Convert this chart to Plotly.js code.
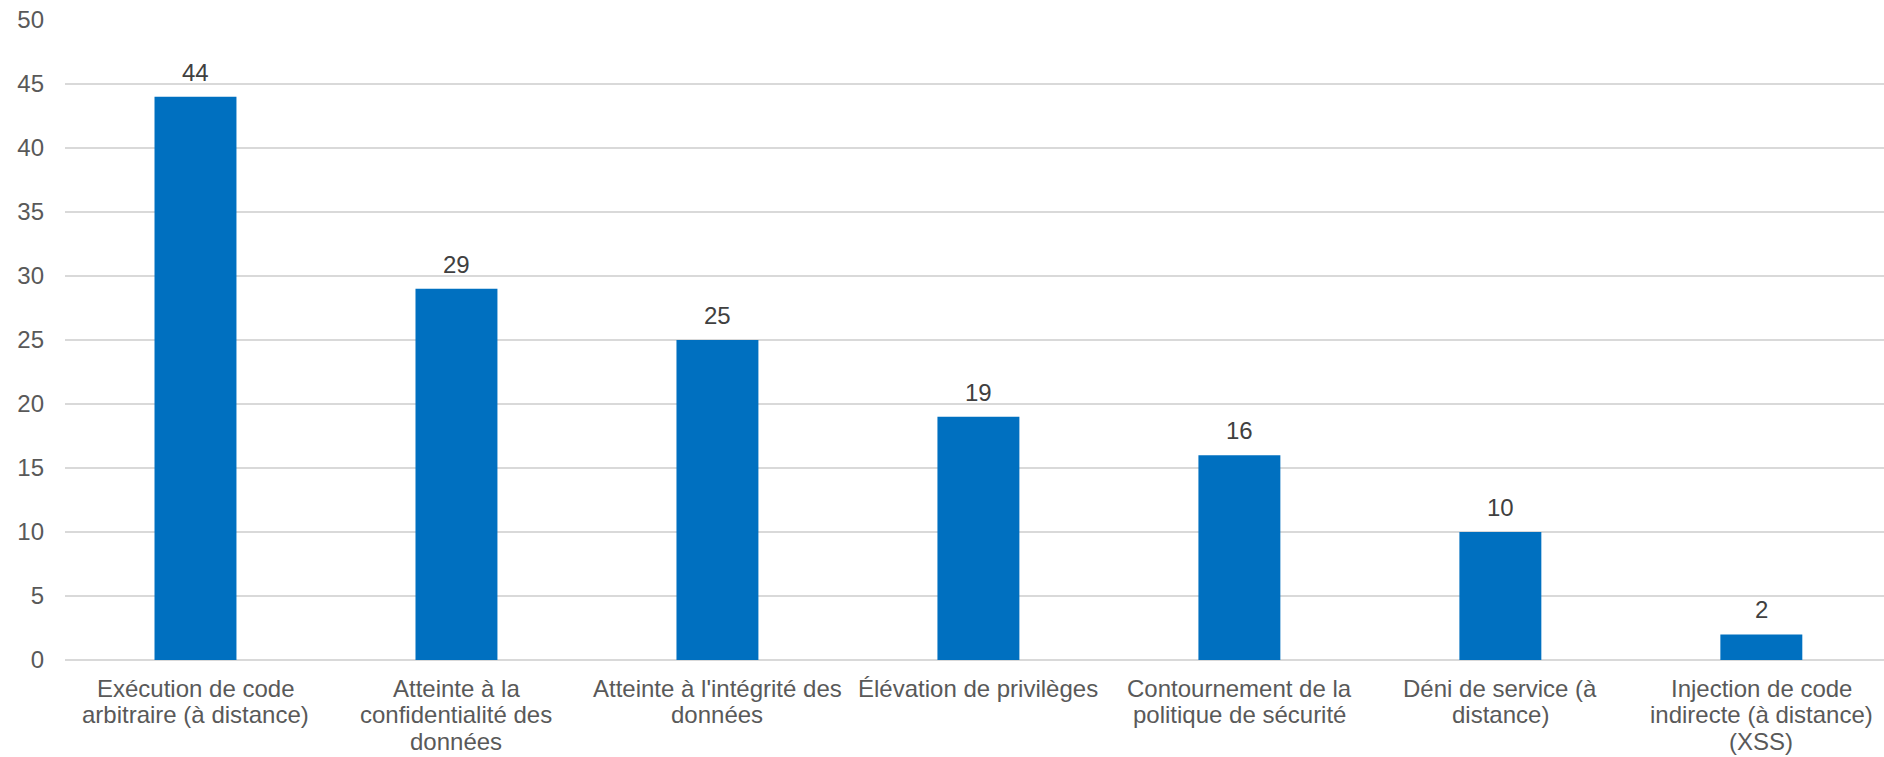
<!DOCTYPE html>
<html>
<head>
<meta charset="utf-8">
<script src="https://cdn.plot.ly/plotly-3.0.1.min.js"></script>
<style>
  html, body { margin: 0; padding: 0; background: #ffffff; }
  #chart { width: 1884px; height: 757px; }
</style>
</head>
<body>
<div id="chart"></div>
<script>
// Vulnerability categories (x axis), one entry per bar; "\n" marks a line break
const categories = [
  "Exécution de code\narbitraire (à distance)",
  "Atteinte à la\nconfidentialité des\ndonnées",
  "Atteinte à l'intégrité des\ndonnées",
  "Élévation de privilèges",
  "Contournement de la\npolitique de sécurité",
  "Déni de service (à\ndistance)",
  "Injection de code\nindirecte (à distance)\n(XSS)"
];
// Number of occurrences per category
const counts = [44, 29, 25, 19, 16, 10, 2];
const yTicks = [0, 5, 10, 15, 20, 25, 30, 35, 40, 45, 50];

const positions = categories.map((_, i) => i);
const fontFamily = "Arial, 'Liberation Sans', sans-serif";
const fontSize = 24;
const lineStep = 26.8;   // tighter line spacing than Plotly's built-in 1.3em

const trace = {
  type: "bar",
  x: positions,
  y: counts,
  width: 0.314,
  marker: { color: "#0070C0", line: { width: 0 } },
  hoverinfo: "skip",
  showlegend: false
};

// Value labels above each bar
const valueLabels = counts.map((v, i) => ({
  x: i,
  y: v,
  xref: "x",
  yref: "y",
  text: String(v),
  showarrow: false,
  yanchor: "bottom",
  yshift: 9,
  font: { family: fontFamily, size: fontSize, color: "#404040" }
}));

// Category labels under the axis, one annotation per text line
const categoryLabels = [];
categories.forEach((label, i) => {
  label.split("\n").forEach((line, k) => {
    categoryLabels.push({
      x: i,
      y: 0,
      xref: "x",
      yref: "y",
      text: line,
      showarrow: false,
      xanchor: "center",
      yanchor: "middle",
      yshift: -28 - k * lineStep,
      font: { family: fontFamily, size: fontSize, color: "#595959" }
    });
  });
});

const layout = {
  width: 1884,
  height: 757,
  margin: { l: 65, r: 0, t: 20, b: 97, pad: 0 },
  paper_bgcolor: "#ffffff",
  plot_bgcolor: "#ffffff",
  font: { family: fontFamily, size: fontSize, color: "#595959" },
  bargap: 0.686,
  xaxis: {
    range: [-0.5, 6.47],
    tickvals: positions,
    showticklabels: false,
    showgrid: false,
    zeroline: false,
    showline: false,
    ticks: "",
    fixedrange: true
  },
  yaxis: {
    range: [0, 50],
    tickvals: yTicks,
    ticktext: yTicks.map(String),
    showgrid: true,
    gridcolor: "#d9d9d9",
    gridwidth: 1.5,
    zeroline: true,
    zerolinecolor: "#d9d9d9",
    zerolinewidth: 2,
    showline: false,
    ticks: "",
    ticklabelstandoff: 20,
    tickfont: { family: fontFamily, size: fontSize, color: "#595959" },
    fixedrange: true
  },
  annotations: valueLabels.concat(categoryLabels)
};

Plotly.newPlot("chart", [trace], layout, { displayModeBar: false, staticPlot: true });
</script>
</body>
</html>
